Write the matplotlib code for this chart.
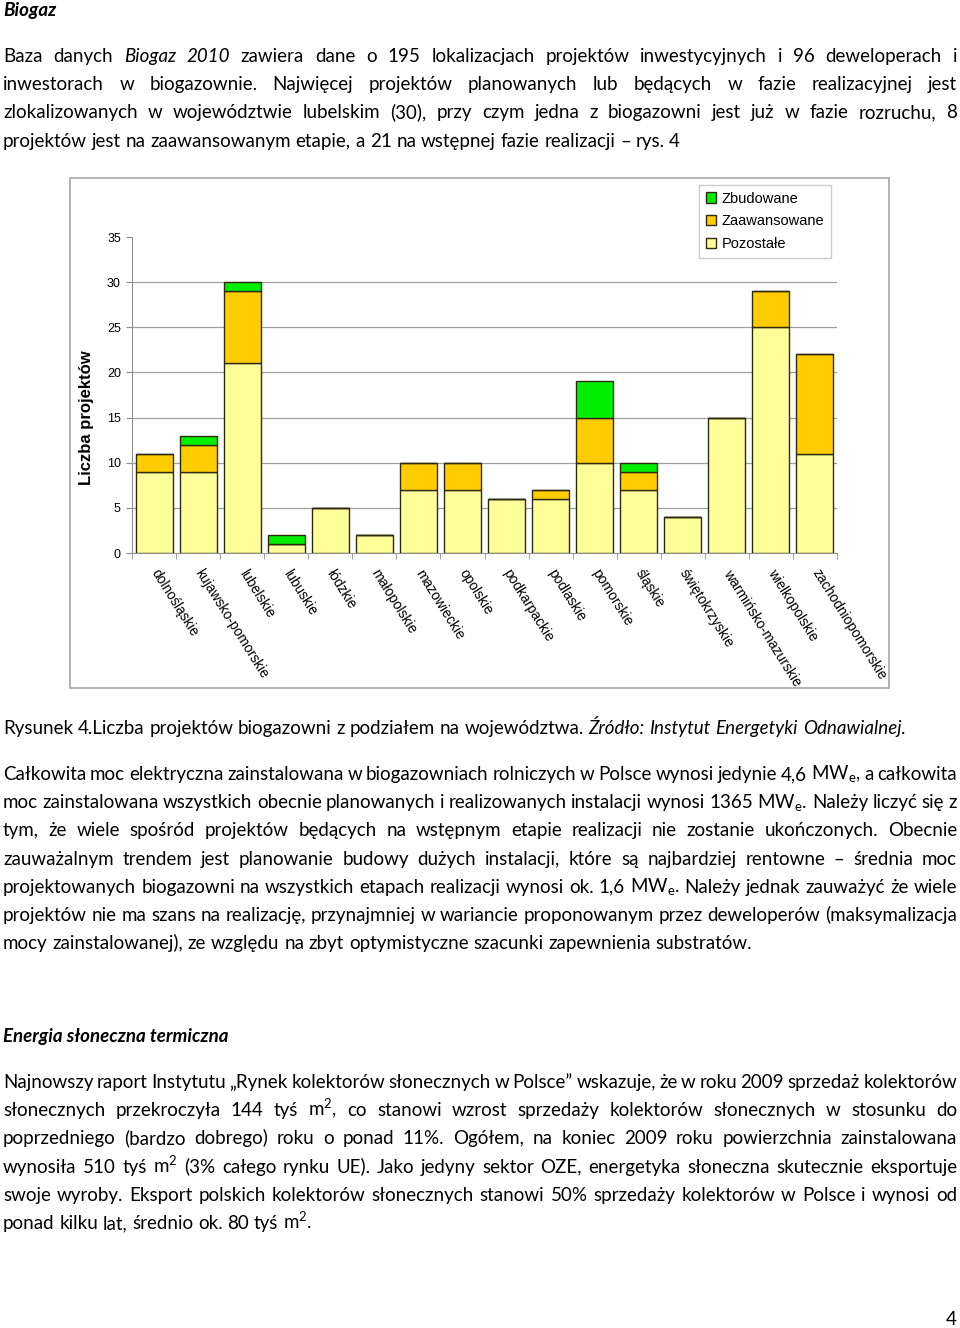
import matplotlib
matplotlib.use("Agg")
import matplotlib.pyplot as plt
import matplotlib.transforms as mtransforms
from matplotlib.patches import Rectangle, Patch

W, H = 960, 1328

regions = ["dolnośląskie", "kujawsko-pomorskie", "lubelskie", "lubuskie", "łódzkie",
           "małopolskie", "mazowieckie", "opolskie", "podkarpackie", "podlaskie",
           "pomorskie", "śląskie", "świętokrzyskie", "warmińsko-mazurskie",
           "wielkopolskie", "zachodniopomorskie"]
pozostale = [9, 9, 21, 1, 5, 2, 7, 7, 6, 6, 10, 7, 4, 15, 25, 11]
zaawansowane = [2, 3, 8, 0, 0, 0, 3, 3, 0, 1, 5, 2, 0, 0, 4, 11]
zbudowane = [0, 1, 1, 1, 0, 0, 0, 0, 0, 0, 4, 1, 0, 0, 0, 0]
y_ticks = [0, 5, 10, 15, 20, 25, 30, 35]

# page text, one entry per printed line; _word_ = italic
para1 = [
    "Baza danych _Biogaz_ _2010_ zawiera dane o 195 lokalizacjach projektów inwestycyjnych i 96 deweloperach i",
    "inwestorach w biogazownie. Najwięcej projektów planowanych lub będących w fazie realizacyjnej jest",
    "zlokalizowanych w województwie lubelskim (30), przy czym jedna z biogazowni jest już w fazie rozruchu, 8",
    "projektów jest na zaawansowanym etapie, a 21 na wstępnej fazie realizacji – rys. 4",
]
caption = ("Rysunek 4.Liczba projektów biogazowni z podziałem na województwa. "
           "_Źródło:_ _Instytut_ _Energetyki_ _Odnawialnej_.")
para2 = [
    r"Całkowita moc elektryczna zainstalowana w biogazowniach rolniczych w Polsce wynosi jedynie 4,6 MW$_\mathregular{e}$, a całkowita",
    r"moc zainstalowana wszystkich obecnie planowanych i realizowanych instalacji wynosi 1365 MW$_\mathregular{e}$. Należy liczyć się z",
    "tym, że wiele spośród projektów będących na wstępnym etapie realizacji nie zostanie ukończonych. Obecnie",
    "zauważalnym trendem jest planowanie budowy dużych instalacji, które są najbardziej rentowne – średnia moc",
    r"projektowanych biogazowni na wszystkich etapach realizacji wynosi ok. 1,6 MW$_\mathregular{e}$. Należy jednak zauważyć że wiele",
    "projektów nie ma szans na realizację, przynajmniej w wariancie proponowanym przez deweloperów (maksymalizacja",
    "mocy zainstalowanej), ze względu na zbyt optymistyczne szacunki zapewnienia substratów.",
]
para3 = [
    "Najnowszy raport Instytutu „Rynek kolektorów słonecznych w Polsce” wskazuje, że w roku 2009 sprzedaż kolektorów",
    r"słonecznych przekroczyła 144 tyś m$^\mathregular{2}$, co stanowi wzrost sprzedaży kolektorów słonecznych w stosunku do",
    "poprzedniego (bardzo dobrego) roku o ponad 11%. Ogółem, na koniec 2009 roku powierzchnia zainstalowana",
    r"wynosiła 510 tyś m$^\mathregular{2}$ (3% całego rynku UE). Jako jedyny sektor OZE, energetyka słoneczna skutecznie eksportuje",
    "swoje wyroby. Eksport polskich kolektorów słonecznych stanowi 50% sprzedaży kolektorów w Polsce i wynosi od",
    r"ponad kilku lat, średnio ok. 80 tyś m$^\mathregular{2}$.",
]

plt.rcParams["mathtext.fontset"] = "custom"
plt.rcParams["mathtext.rm"] = "Lato"
BODY = "Lato"
BODY_SIZE = 13.5

fig = plt.figure(figsize=(W / 100, H / 100), dpi=100)
renderer = fig.canvas.get_renderer()


def fy(y):
    return 1 - y / H


def put_line(y, line, x0=3, x1=957, justify=True, size=BODY_SIZE, weight="normal"):
    words = line.split()
    texts = []
    for w in words:
        style = "normal"
        if w.startswith("_"):
            style = "italic"
            w = w.strip("_") if w.endswith("_") else w[1:].replace("_", "")
        t = fig.text(0, fy(y), w, fontsize=size, family=BODY, style=style,
                     weight=weight, va="baseline", ha="left")
        texts.append(t)
    widths = [t.get_window_extent(renderer).width for t in texts]
    a = fig.text(0, 0, "a a", fontsize=size, family=BODY)
    b = fig.text(0, 0, "aa", fontsize=size, family=BODY)
    space = a.get_window_extent(renderer).width - b.get_window_extent(renderer).width
    a.remove()
    b.remove()
    if justify and len(words) > 1:
        gap = (x1 - x0 - sum(widths)) / (len(words) - 1)
    else:
        gap = space
    x = x0
    for t, w in zip(texts, widths):
        t.set_x(x / W)
        x += w + gap


def put_par(lines, y0, step):
    for i, line in enumerate(lines):
        put_line(y0 + i * step, line, justify=(i < len(lines) - 1))


fig.text(3 / W, fy(16), "Biogaz", fontsize=BODY_SIZE, family=BODY, style="italic",
         weight="bold", va="baseline")
put_par(para1, 62, 28.2)
put_line(734, caption, justify=False)
put_par(para2, 780, 28.2)
fig.text(3 / W, fy(1042), "Energia słoneczna termiczna", fontsize=BODY_SIZE, family=BODY,
         style="italic", weight="bold", va="baseline")
put_par(para3, 1088, 28.2)
fig.text(957 / W, fy(1325), "4", fontsize=BODY_SIZE, family=BODY, ha="right", va="baseline")

# chart frame
fig.patches.append(Rectangle((70 / W, fy(688)), 819 / W, 510 / H, transform=fig.transFigure,
                             fill=False, edgecolor="#a6a6a6", linewidth=1.2))

ax = fig.add_axes([132 / W, fy(553), 705 / W, 316 / H])
x = list(range(len(regions)))
edge = "#2e2a10"
bw = 0.84
bottom2 = pozostale
bottom3 = [p + z for p, z in zip(pozostale, zaawansowane)]
ax.bar(x, pozostale, bw, color="#ffff99", edgecolor=edge, linewidth=1.0, zorder=3)
ax.bar(x, zaawansowane, bw, bottom=bottom2, color="#ffcc00", edgecolor=edge, linewidth=1.0, zorder=3)
ax.bar(x, zbudowane, bw, bottom=bottom3, color="#00ee00", edgecolor=edge, linewidth=1.0, zorder=3)

ax.set_xlim(-0.5, len(regions) - 0.5)
ax.set_ylim(0, 35)
ax.set_yticks(y_ticks)
ax.set_yticklabels([str(v) for v in y_ticks], fontsize=9, family="Liberation Sans")
ax.hlines(y_ticks[1:-1], 0, 1, transform=ax.get_yaxis_transform(), color="#a0a0a0",
          linewidth=0.9, zorder=1)
for s in ["top", "right"]:
    ax.spines[s].set_visible(False)
for s in ["left", "bottom"]:
    ax.spines[s].set_color("#909090")
ax.tick_params(axis="y", length=4, color="#909090", pad=4)
ax.set_xticks(x)
ax.set_xticklabels(regions, rotation=-58, ha="left", va="top", rotation_mode="anchor",
                   fontsize=10, family="Liberation Sans")
ax.tick_params(axis="x", length=0, pad=10)
shift = mtransforms.ScaledTranslation(0.06, 0, fig.dpi_scale_trans)
for lbl in ax.get_xticklabels():
    lbl.set_transform(lbl.get_transform() + shift)
ax.set_xticks([i - 0.5 for i in range(len(regions) + 1)], minor=True)
ax.tick_params(axis="x", which="minor", length=4, color="#909090")

fig.text(87 / W, fy(418), "Liczba projektów", rotation=90, ha="center", va="center",
         fontsize=12, weight="bold", family="Liberation Sans")

handles = [Patch(facecolor="#00ee00", edgecolor=edge, label="Zbudowane"),
           Patch(facecolor="#ffcc00", edgecolor=edge, label="Zaawansowane"),
           Patch(facecolor="#ffff99", edgecolor=edge, label="Pozostałe")]
leg = fig.legend(handles=handles, loc="upper left", bbox_to_anchor=(699 / W, fy(185)),
                 fancybox=False, edgecolor="#c0c0c0", borderaxespad=0,
                 handlelength=0.7, handleheight=0.7, handletextpad=0.4,
                 labelspacing=0.6, borderpad=0.45,
                 prop={"family": "Liberation Sans", "size": 10.5})
leg.get_frame().set_linewidth(1.0)

fig.savefig("out.png", dpi=100)
